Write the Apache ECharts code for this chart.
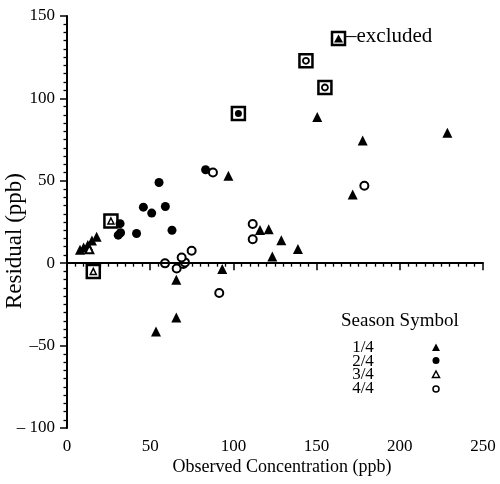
<!DOCTYPE html>
<html lang="en">
<head>
    <meta charset="utf-8">
    <script src="https://cdn.jsdelivr.net/npm/echarts@6/dist/echarts.min.js"></script>
    <style>
        html, body { margin:0; padding:0; background:#fff; }
        #main { width:500px; height:484px; }
    </style>
</head>
<body>
<div id="main"></div>
<script type="text/javascript">
    // season 1/4 - filled triangles
    var season1 = [[7.8,8.2],[10,9.5],[12.5,11],[15,13.7],[17.8,16],[53.5,-41.5],[65.7,-33],
        [65.7,-10],[93.3,-3.5],[97,53],[116,20.2],[121.2,20.6],[123.4,4],[128.8,14],[138.8,8.6],
        [150.4,88.7],[171.7,41.7],[177.7,74.5],[228.6,79.2]];
    // season 2/4 - filled circles
    var season2 = [[31.9,24],[30.8,17],[32.2,18.5],[41.8,18],[45.9,34],[50.9,30.4],[55.3,49],
        [59.1,34.4],[63.1,20],[83.3,56.7]];
    // season 3/4 - open triangles
    var season3 = [[13.4,8.4]];
    // season 4/4 - open circles
    var season4 = [[58.9,-0.1],[65.9,-3.2],[69.9,-0.5],[70.9,0.5],[68.9,3.5],[74.9,7.6],[87.7,55],
        [91.5,-18.1],[111.6,23.8],[111.6,14.5],[178.7,47]];
    // excluded points (boxed), by season
    var excl2 = [[103,90.8]];
    var excl3 = [[26.4,25.6],[15.8,-5]];
    var excl4 = [[143.6,122.8],[155,106.6]];
    var exclAll = excl2.concat(excl3, excl4);

    var xTicks = [0, 50, 100, 150, 200, 250];
    var yTicks = [-100, -50, 0, 50, 100, 150];
    var legendRows = ['1/4', '2/4', '3/4', '4/4'];

    var font = 'Liberation Serif';
    var myChart = echarts.init(document.getElementById('main'));

    function dashLabel(v) {
        if (v < 0) return '\u2013' + (v <= -100 ? ' ' : '') + (-v);
        return String(v);
    }

    var legendGraphics = [];
    // "excluded" key
    legendGraphics.push({type:'rect', shape:{x:332, y:32, width:13, height:13},
        style:{fill:'#fff', stroke:'#000', lineWidth:2.5}});
    legendGraphics.push({type:'polygon', shape:{points:[[338.5,34.5],[343,42.5],[334,42.5]]},
        style:{fill:'#000'}});
    legendGraphics.push({type:'text', left:346, top:26,
        style:{text:'\u2013excluded', font:'21px "' + font + '"', fill:'#000'}});
    // season legend
    legendGraphics.push({type:'text', left:341, top:312,
        style:{text:'Season Symbol', font:'19px "' + font + '"', fill:'#000'}});
    var rowY = [348, 361.5, 375, 389];
    for (var i = 0; i < legendRows.length; i++) {
        legendGraphics.push({type:'text', x:363, y:rowY[i],
            style:{text:legendRows[i], font:'17px "' + font + '"', fill:'#000',
                align:'center', verticalAlign:'middle'}});
    }
    legendGraphics.push({type:'polygon', shape:{points:[[436,343.5],[440,351],[432,351]]}, style:{fill:'#000'}});
    legendGraphics.push({type:'circle', shape:{cx:436, cy:360.5, r:3.5}, style:{fill:'#000'}});
    legendGraphics.push({type:'polygon', shape:{points:[[436,371],[439.5,377.5],[432.5,377.5]]},
        style:{fill:'#fff', stroke:'#000', lineWidth:1.5}});
    legendGraphics.push({type:'circle', shape:{cx:436, cy:389, r:3}, style:{fill:'#fff', stroke:'#000', lineWidth:1.5}});
    // axis titles
    legendGraphics.push({type:'text', x:282, y:467,
        style:{text:'Observed Concentration (ppb)', font:'18px "' + font + '"', fill:'#000',
            align:'center', verticalAlign:'middle'}});
    legendGraphics.push({type:'text', x:15, y:241, rotation:Math.PI / 2,
        style:{text:'Residual (ppb)', font:'23px "' + font + '"', fill:'#000',
            align:'center', verticalAlign:'middle'}});

    var axisCommon = {
        splitLine:{show:false},
        axisLine:{show:true, lineStyle:{color:'#000', width:2}},
        axisTick:{show:true, length:7, lineStyle:{color:'#000', width:1.5}},
        minorTick:{show:true, splitNumber:10, length:3.5, lineStyle:{color:'#000', width:1.3}},
        axisLabel:{color:'#000', fontFamily:font, fontSize:17, formatter:dashLabel}
    };

    myChart.setOption({
        animation:false,
        backgroundColor:'#fff',
        grid:{left:67, right:17, top:16, bottom:56},
        xAxis:Object.assign({type:'value', min:xTicks[0], max:xTicks[xTicks.length - 1], interval:50}, axisCommon,
            {axisLabel:Object.assign({}, axisCommon.axisLabel, {margin:10})}),
        yAxis:Object.assign({type:'value', min:yTicks[0], max:yTicks[yTicks.length - 1], interval:50}, axisCommon,
            {axisLabel:Object.assign({}, axisCommon.axisLabel, {margin:12})}),
        graphic:legendGraphics,
        series:[
            {
                name:'box', type:'scatter', data:exclAll, symbol:'rect', symbolSize:13, z:2,
                itemStyle:{color:'#fff', borderColor:'#000', borderWidth:2.5, opacity:1},
                markLine:{
                    silent:true, symbol:'none', label:{show:false},
                    lineStyle:{color:'#000', width:2, type:'solid'},
                    data:[{yAxis:0}]
                }
            },
            {name:'1/4', type:'scatter', data:season1, symbol:'triangle', symbolSize:10, z:3,
                itemStyle:{color:'#000', opacity:1}},
            {name:'2/4', type:'scatter', data:season2, symbol:'circle', symbolSize:9, z:3,
                itemStyle:{color:'#000', opacity:1}},
            {name:'3/4', type:'scatter', data:season3, symbol:'triangle', symbolSize:8, z:3,
                itemStyle:{color:'#fff', borderColor:'#000', borderWidth:2, opacity:1}},
            {name:'4/4', type:'scatter', data:season4, symbol:'circle', symbolSize:8, z:3,
                itemStyle:{color:'#fff', borderColor:'#000', borderWidth:2, opacity:1}},
            {name:'excl 2/4', type:'scatter', data:excl2, symbol:'circle', symbolSize:7, z:4,
                itemStyle:{color:'#000', opacity:1}},
            {name:'excl 3/4', type:'scatter', data:excl3, symbol:'triangle', symbolSize:6, z:4,
                itemStyle:{color:'#fff', borderColor:'#000', borderWidth:1.5, opacity:1}},
            {name:'excl 4/4', type:'scatter', data:excl4, symbol:'circle', symbolSize:6, z:4,
                itemStyle:{color:'#fff', borderColor:'#000', borderWidth:1.8, opacity:1}}
        ]
    });
</script>
</body>
</html>
